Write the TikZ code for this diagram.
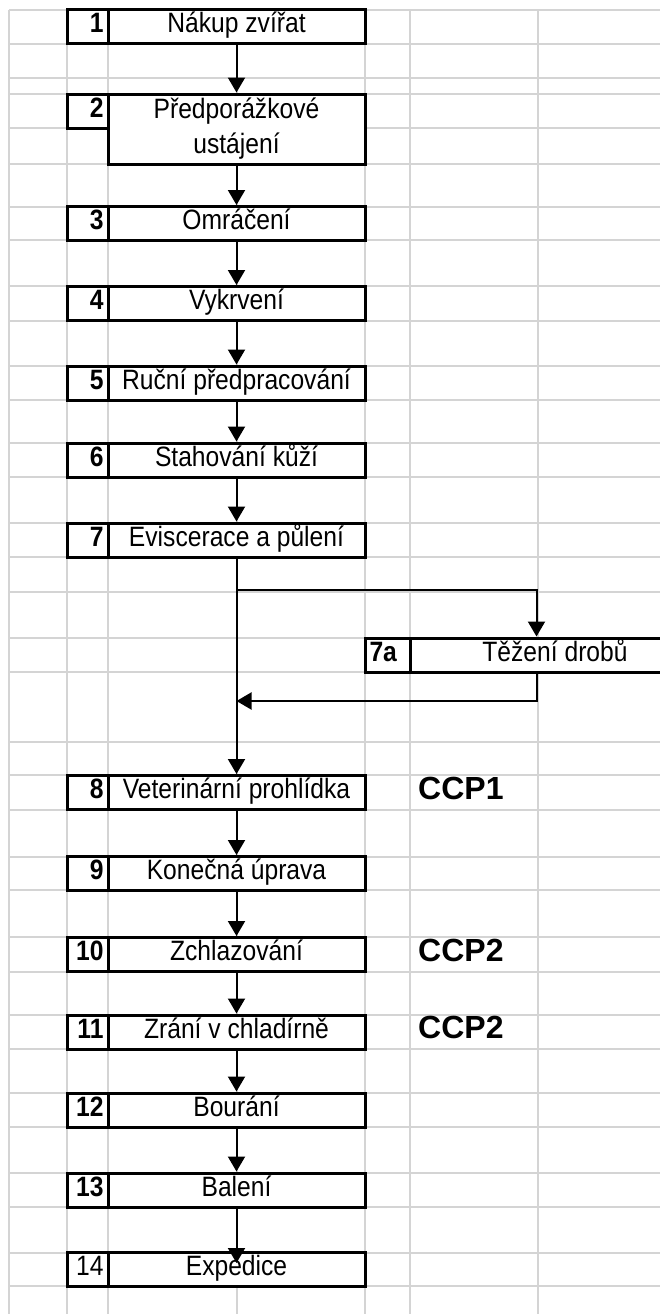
\documentclass[tikz,border=0pt]{standalone}
\usepackage{fontspec}
\setmainfont{Liberation Sans}[FakeStretch=0.88]
\newfontfamily\ccpfont{Liberation Sans}
\usetikzlibrary{arrows.meta}

\begin{document}
\begin{tikzpicture}[
  x=1pt, y=-1pt,
  grid/.style={draw=black!17, line width=2.5pt},
  box/.style={draw, line width=3pt, fill=white, inner sep=0pt, font=\fontsize{28}{35}\selectfont},
  cell/.style={box, minimum width=257pt, minimum height=34pt, text height=20pt, text depth=8pt},
  numcell/.style={cell, minimum width=41pt, text width=32pt, align=right,
    font=\fontsize{28}{35}\selectfont\bfseries},
  ccp/.style={anchor=base west, inner sep=0pt, font=\ccpfont\fontsize{32}{38}\selectfont\bfseries},
  flow/.style={-{Triangle[width=17pt,length=15pt]}, line width=2pt}
]
\useasboundingbox (0,0) rectangle (660,1314);
\clip (0,0) rectangle (660,1314);

\foreach \gx in {9,67,108,237,365,410,538}
  \draw[grid] (\gx,10) -- (\gx,1314);
\foreach \gy in {10,44,78,94,128,164,207,240,286,321,366,400,443,477,523,557,592,638,672,
  742,775,810,857,890,937,972,1015,1049,1093,1127,1173,1207,1253,1286}
  \draw[grid] (9,\gy) -- (660,\gy);

\node[numcell] (n1) at (87.5,27) {1};
\node[cell] (b1) at (236.5,27) {Nákup zvířat};

\node[numcell] (n2) at (87.5,111) {2};
\node[box, minimum width=257pt, minimum height=70pt, align=center] (b2) at (236.5,129)
  {Předporážkové\\ustájení};

\node[numcell] (n3) at (87.5,223.5) {3};
\node[cell] (b3) at (236.5,223.5) {Omráčení};

\node[numcell] (n4) at (87.5,303.5) {4};
\node[cell] (b4) at (236.5,303.5) {Vykrvení};

\node[numcell] (n5) at (87.5,383) {5};
\node[cell] (b5) at (236.5,383) {Ruční předpracování};

\node[numcell] (n6) at (87.5,460) {6};
\node[cell] (b6) at (236.5,460) {Stahování kůží};

\node[numcell] (n7) at (87.5,540) {7};
\node[cell] (b7) at (236.5,540) {Eviscerace a půlení};

\node[numcell, minimum width=45pt, text width=36pt, align=left] (n7a) at (387.5,655) {7a};
\node[cell, minimum width=290pt] (b7a) at (555,655) {Těžení drobů\hspace{62pt}};

\node[numcell] (n8) at (87.5,792.5) {8};
\node[cell] (b8) at (236.5,792.5) {Veterinární prohlídka};
\node[ccp] (ccp8) at (418,799) {CCP1};

\node[numcell] (n9) at (87.5,873.5) {9};
\node[cell] (b9) at (236.5,873.5) {Konečná úprava};

\node[numcell] (n10) at (87.5,954.5) {10};
\node[cell] (b10) at (236.5,954.5) {Zchlazování};
\node[ccp] (ccp10) at (418,961) {CCP2};

\node[numcell] (n11) at (87.5,1032) {11};
\node[cell] (b11) at (236.5,1032) {Zrání v chladírně};
\node[ccp] (ccp11) at (418,1038) {CCP2};

\node[numcell] (n12) at (87.5,1110) {12};
\node[cell] (b12) at (236.5,1110) {Bourání};

\node[numcell] (n13) at (87.5,1190) {13};
\node[cell] (b13) at (236.5,1190) {Balení};

\node[numcell, font=\fontsize{28}{35}\selectfont] (n14) at (87.5,1269.5) {14};
\node[cell] (b14) at (236.5,1269.5) {Expedice};

\coordinate (fork) at (236.5,590);
\coordinate (join) at (236.5,701);

\draw[flow] (b1) -- (b2);
\draw[flow] (b2) -- (b3);
\draw[flow] (b3) -- (b4);
\draw[flow] (b4) -- (b5);
\draw[flow] (b5) -- (b6);
\draw[flow] (b6) -- (b7);
\draw[flow] (b7) -- (b8);
\draw[flow] (fork) -| ([xshift=128pt]b7a.north west);
\draw[flow] ([xshift=128pt]b7a.south west) |- (join);
\draw[flow] (b8) -- (b9);
\draw[flow] (b9) -- (b10);
\draw[flow] (b10) -- (b11);
\draw[flow] (b11) -- (b12);
\draw[flow] (b12) -- (b13);
\draw[flow] (b13) -- ([yshift=-12pt]b14.north);
\end{tikzpicture}
\end{document}
